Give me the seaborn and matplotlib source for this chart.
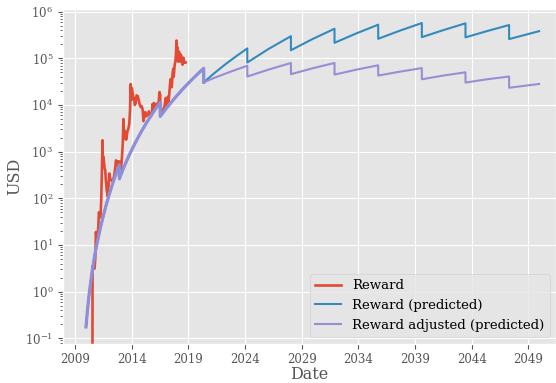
import matplotlib
matplotlib.use("Agg")
import matplotlib.pyplot as plt
import matplotlib.dates as mdates
import pandas as pd
import seaborn as sns

# Block reward valued in USD (price x block subsidy)
reward_dates = [
    "2010-07-17", "2010-07-19", "2010-08-15", "2010-09-20", "2010-10-15", "2010-11-06",
    "2010-11-20", "2010-12-15", "2011-01-15", "2011-02-10", "2011-03-10", "2011-04-01",
    "2011-04-25", "2011-05-15", "2011-06-08", "2011-06-12", "2011-06-25", "2011-07-15",
    "2011-08-10", "2011-09-01", "2011-09-20", "2011-10-20", "2011-11-18", "2011-12-20",
    "2012-01-10", "2012-02-15", "2012-03-15", "2012-04-15", "2012-05-20", "2012-06-20",
    "2012-07-20", "2012-08-16", "2012-08-25", "2012-09-20", "2012-10-20", "2012-11-27",
    "2012-11-28", "2012-12-20", "2013-01-20", "2013-02-20", "2013-03-20", "2013-04-09",
    "2013-04-16", "2013-05-10", "2013-06-15", "2013-07-05", "2013-08-10", "2013-09-15",
    "2013-10-15", "2013-11-10", "2013-11-30", "2013-12-18", "2014-01-05", "2014-02-10",
    "2014-02-25", "2014-03-20", "2014-04-10", "2014-05-10", "2014-06-05", "2014-07-15",
    "2014-08-20", "2014-09-20", "2014-10-20", "2014-11-15", "2014-12-20", "2015-01-14",
    "2015-02-20", "2015-03-15", "2015-04-15", "2015-05-20", "2015-06-20", "2015-07-10",
    "2015-08-20", "2015-09-20", "2015-10-20", "2015-11-04", "2015-11-20", "2015-12-20",
    "2016-01-15", "2016-02-20", "2016-03-20", "2016-04-20", "2016-05-20", "2016-06-17",
    "2016-06-25", "2016-07-08", "2016-07-09", "2016-08-05", "2016-09-15", "2016-10-15",
    "2016-11-20", "2017-01-04", "2017-01-12", "2017-02-20", "2017-03-10", "2017-03-25",
    "2017-04-20", "2017-05-25", "2017-06-12", "2017-07-15", "2017-08-15", "2017-09-02",
    "2017-09-15", "2017-10-20", "2017-11-10", "2017-11-28", "2017-12-17", "2017-12-30",
    "2018-01-15", "2018-02-06", "2018-03-05", "2018-04-06", "2018-05-05", "2018-06-28",
    "2018-07-25", "2018-08-15", "2018-09-20", "2018-10-05",
]
reward_usd = [
    0.02, 3.5, 3.2, 3.1, 5.0, 19.0,
    14.0, 12.5, 20.0, 50.0, 40.0, 39.0,
    90.0, 350.0, 1750.0, 700.0, 800.0, 680.0,
    450.0, 400.0, 250.0, 150.0, 110.0, 200.0,
    340.0, 250.0, 240.0, 245.0, 255.0, 320.0,
    450.0, 650.0, 500.0, 620.0, 580.0, 620.0,
    310.0, 340.0, 420.0, 750.0, 1500.0, 5000.0,
    1900.0, 2900.0, 2500.0, 1800.0, 2600.0, 3100.0,
    3900.0, 8000.0, 28000.0, 13000.0, 23000.0, 16000.0,
    13000.0, 14000.0, 10000.0, 11000.0, 16000.0, 15500.0,
    12500.0, 10000.0, 9000.0, 9500.0, 8000.0, 4500.0,
    6000.0, 7000.0, 5700.0, 6000.0, 6200.0, 7300.0,
    5800.0, 5800.0, 6800.0, 10500.0, 8200.0, 11000.0,
    9500.0, 10000.0, 10300.0, 11000.0, 11500.0, 19000.0,
    16000.0, 16500.0, 8200.0, 7200.0, 7600.0, 8000.0,
    9200.0, 14000.0, 10000.0, 13000.0, 15000.0, 11500.0,
    15500.0, 30000.0, 36000.0, 24000.0, 50000.0, 60000.0,
    40000.0, 75000.0, 85000.0, 125000.0, 240000.0, 165000.0,
    170000.0, 85000.0, 140000.0, 85000.0, 120000.0, 73000.0,
    103000.0, 80000.0, 83000.0, 82000.0,
]

# Fitted reward over the historical period (shared by both predicted series)
fit_dates = [
    "2009-12-20", "2010-02-06", "2010-04-02", "2010-07-02", "2010-10-01", "2011-01-01",
    "2011-04-02", "2011-07-02", "2011-10-01", "2012-01-01", "2012-04-01", "2012-07-01",
    "2012-11-27", "2012-11-28", "2013-04-02", "2013-10-01", "2014-04-02", "2014-10-01",
    "2015-04-02", "2015-10-01", "2016-04-01", "2016-07-08", "2016-07-09", "2017-01-01",
    "2017-10-01", "2018-07-02", "2019-04-02", "2020-01-01", "2020-05-10", "2020-05-11",
]
fit_usd = [
    0.175, 0.40, 0.90, 2.6, 6.3, 12.5,
    24.0, 42.0, 72.0, 116, 183, 280,
    522, 261, 428, 811, 1440, 2430,
    3930, 6120, 9230, 11400, 5690, 8130,
    13600, 21800, 33800, 50700, 61000, 30500,
]

# Projection after the 2020 halving
future_dates = [
    "2021-04-02", "2022-04-02", "2023-04-02", "2024-03-14", "2024-03-15", "2026-02-06",
    "2028-01-19", "2028-01-20", "2029-12-13", "2031-11-24", "2031-11-25", "2033-10-19",
    "2035-10-01", "2035-10-02", "2037-09-13", "2039-08-08", "2039-08-09", "2041-07-02",
    "2043-06-14", "2043-06-15", "2045-05-08", "2047-04-20", "2047-04-21", "2049-12-13",
]
future_pred_usd = [
    47100, 74000, 112000, 163000, 81300, 160000,
    298000, 149000, 258000, 430000, 215000, 340000,
    525000, 262000, 394000, 569000, 284000, 402000,
    562000, 281000, 383000, 516000, 258000, 382000,
]
future_adj_usd = [
    37800, 46800, 57500, 69200, 40700, 57500,
    79400, 45700, 61000, 79400, 44700, 56900,
    70800, 42700, 51900, 61700, 35500, 42700,
    50100, 30200, 35500, 40700, 23400, 28200,
]

year_ticks = [2009, 2014, 2019, 2024, 2029, 2034, 2039, 2044, 2049]
usd_ticks = [1e-1, 1e0, 1e1, 1e2, 1e3, 1e4, 1e5, 1e6]

plt.style.use("ggplot")
plt.rcParams["font.family"] = ["DejaVu Serif"]
plt.rcParams["mathtext.fontset"] = "dejavuserif"

red, blue, purple = "#E24A33", "#348ABD", "#988ED5"

reward = pd.DataFrame({"date": pd.to_datetime(reward_dates), "usd": reward_usd})
fit = pd.DataFrame({"date": pd.to_datetime(fit_dates), "usd": fit_usd})
pred = pd.concat([fit, pd.DataFrame({"date": pd.to_datetime(future_dates),
                                     "usd": future_pred_usd})], ignore_index=True)
adj = pd.concat([fit, pd.DataFrame({"date": pd.to_datetime(future_dates),
                                    "usd": future_adj_usd})], ignore_index=True)

fig = plt.figure(figsize=(5.56, 3.83), dpi=100)
ax = fig.add_axes([0.1133, 0.103, 0.887, 0.874])

sns.lineplot(data=reward, x="date", y="usd", ax=ax, color=red, lw=1.9,
             label="Reward", estimator=None, sort=False)
sns.lineplot(data=pred, x="date", y="usd", ax=ax, color=blue, lw=1.5,
             label="Reward (predicted)", estimator=None, sort=False)
sns.lineplot(data=adj, x="date", y="usd", ax=ax, color=purple, lw=1.5,
             label="Reward adjusted (predicted)", estimator=None, sort=False)
sns.lineplot(data=fit, x="date", y="usd", ax=ax, color="#8E8FD8", lw=2.3,
             estimator=None, sort=False, legend=False)

ax.set_yscale("log")
ax.set_yticks(usd_ticks)
ax.set_ylim(0.077, 1.15e6)
ax.set_xlim(pd.Timestamp("2007-12-10"), pd.Timestamp("2051-06-15"))
ax.set_xticks([pd.Timestamp(f"{y}-01-01") for y in year_ticks])
ax.xaxis.set_major_formatter(mdates.DateFormatter("%Y"))
ax.tick_params(axis="both", labelsize=8.5)
ax.set_xlabel("Date", fontsize=11.5, labelpad=0)
ax.set_ylabel("USD", fontsize=11.5, labelpad=1.5)

ax.legend(loc="lower right", fontsize=9.5)

fig.savefig("out.png", dpi=100)
